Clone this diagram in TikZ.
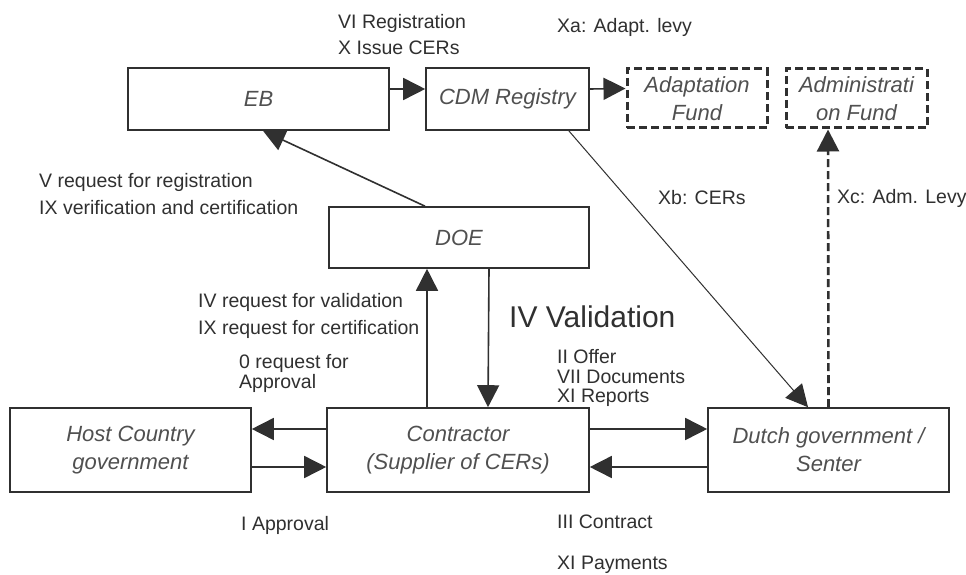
\documentclass[tikz,border=0pt]{standalone}
\usepackage{fontspec}
\setmainfont{Liberation Sans}
\usetikzlibrary{arrows.meta,calc}
\definecolor{ln}{HTML}{303030}
\definecolor{boxtxt}{HTML}{505050}
\definecolor{lbltxt}{HTML}{303030}
\tikzset{
  box/.style={draw=ln, line width=1.6pt, rectangle, inner sep=0pt, align=center,
    text=boxtxt, font=\fontsize{22}{28}\selectfont\itshape},
  dbox/.style={box, dash pattern=on 8pt off 4pt, line width=3pt},
  lbl/.style={anchor=west, inner sep=0pt, text=lbltxt, align=left,
    font=\fontsize{19.5}{21}\selectfont},
  arr/.style={draw=ln, line width=1.6pt, -{Triangle[length=22pt,width=22pt]}},
  thin arr/.style={draw=ln, line width=1pt, -{Triangle[length=22pt,width=22pt]}},
  dash arr/.style={draw=ln, line width=2.6pt, dash pattern=on 8pt off 4pt, -{Triangle[length=22pt,width=22pt]}}
}
\begin{document}
\begin{tikzpicture}[x=1pt,y=-1pt]
\useasboundingbox[fill=white] (0,0) rectangle (966,575);
% boxes
\node[box, minimum width=261pt, minimum height=62pt] (eb) at (258.5,99) {EB};
\node[box, minimum width=163pt, minimum height=62pt] (cdm) at (507.5,99) {CDM Registry};
\node[dbox, minimum width=140pt, minimum height=59pt] (adapt) at (697,98.5) {Adaptation\\Fund};
\node[dbox, minimum width=141pt, minimum height=59pt] (admin) at (856.5,98.5) {Administrati\\on Fund};
\node[box, minimum width=260pt, minimum height=61pt] (doe) at (459,237.5) {DOE};
\node[box, minimum width=241pt, minimum height=84pt] (host) at (130.5,450) {Host Country\\government};
\node[box, minimum width=262pt, minimum height=84pt] (contr) at (458,450) {Contractor\\(Supplier of CERs)};
\node[box, minimum width=241pt, minimum height=84pt] (dutch) at (828.5,450) {Dutch government /\\Senter};
% connectors
\draw[arr] ([yshift=10pt]eb.east) -- ([yshift=10pt]cdm.west);
\draw[arr] ([yshift=10pt]cdm.east) -- ([yshift=10pt]adapt.west);
\draw[arr] ([xshift=-34pt]doe.north) -- ([xshift=4.5pt]eb.south);
\draw[thin arr] ([xshift=-21pt]cdm.south east) -- ([xshift=-20.5pt]dutch.north);
\draw[dash arr] (dutch.north) -- ([xshift=-28.5pt]admin.south);
\draw[arr] ([xshift=-31pt]contr.north) -- ([xshift=-32pt]doe.south);
\draw[arr] ([xshift=30pt]doe.south) -- ([xshift=30pt]contr.north);
\draw[arr] ([yshift=21pt]contr.west) -- ([yshift=21pt]host.east);
\draw[arr] ([yshift=-17pt]host.east) -- ([yshift=-17pt]contr.west);
\draw[arr] ([yshift=21pt]contr.east) -- ([yshift=21pt]dutch.west);
\draw[arr] ([yshift=-17pt]dutch.west) -- ([yshift=-17pt]contr.east);
% labels
\node[lbl] (l1) at (338,23) {VI Registration};
\node[lbl] (l2) at (338,48) {X Issue CERs};
\node[lbl] (l3) at (557,27) {Xa: Adapt. levy};
\node[lbl] (l4) at (39,182) {V request for registration};
\node[lbl] (l5) at (39,208) {IX verification and certification};
\node[lbl] (l6) at (658,198) {Xb: CERs};
\node[lbl] (l7) at (837,198) {Xc: Adm. Levy};
\node[lbl] (l8) at (198,302) {IV request for validation};
\node[lbl] (l9) at (198,329) {IX request for certification};
\node[lbl] (l10) at (239,363) {0 request for};
\node[lbl] (l11) at (239,383) {Approval};
\node[lbl] (l12) at (241,525) {I Approval};
\node[lbl, font=\fontsize{30}{32}\selectfont] (l13) at (509,317) {IV Validation};
\node[lbl] (l14) at (557,357) {II Offer};
\node[lbl] (l15) at (557,377) {VII Documents};
\node[lbl] (l16) at (557,398) {XI Reports};
\node[lbl] (l17) at (557,522) {III Contract};
\node[lbl] (l18) at (557,565) {XI Payments};
\end{tikzpicture}
\end{document}
